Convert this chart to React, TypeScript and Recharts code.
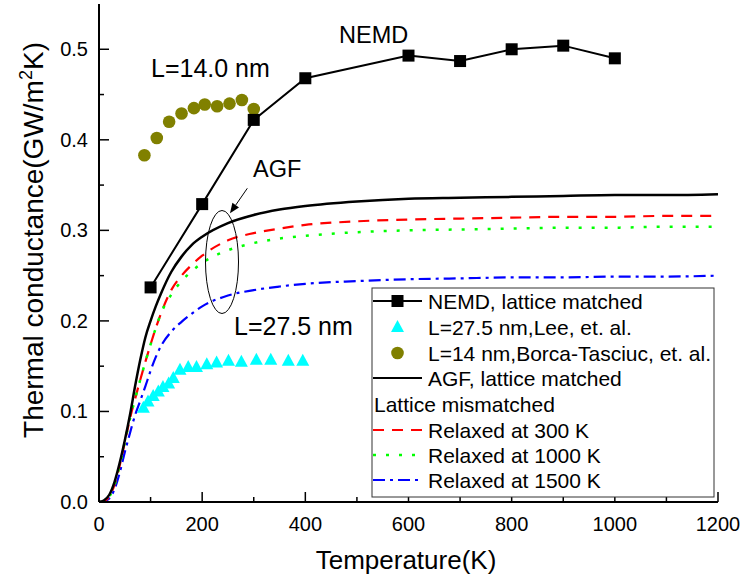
import React from "react";
import { ComposedChart, Line, Scatter, XAxis, YAxis } from "recharts";

const FONT = "'Liberation Sans', Arial, sans-serif";

// AGF curves (shared temperature grid)
const temps = [0, 10, 20, 30, 40, 50, 60, 70, 80, 90, 100, 110, 120, 140, 160, 180, 200, 250, 300, 350, 400, 500, 600, 700, 800, 900, 1000, 1100, 1200];
const agfMatched = [0, 0.002, 0.008, 0.022, 0.043, 0.068, 0.096, 0.128, 0.157, 0.182, 0.2, 0.216, 0.23, 0.254, 0.271, 0.284, 0.293, 0.308, 0.317, 0.323, 0.327, 0.332, 0.335, 0.336, 0.337, 0.338, 0.339, 0.339, 0.34];
const relaxed300 = [0, 0.001, 0.006, 0.019, 0.04, 0.066, 0.092, 0.114, 0.135, 0.155, 0.174, 0.192, 0.208, 0.234, 0.25, 0.262, 0.272, 0.289, 0.297, 0.302, 0.306, 0.31, 0.312, 0.313, 0.314, 0.315, 0.315, 0.316, 0.316];
const relaxed1000 = [0, 0.001, 0.006, 0.019, 0.04, 0.066, 0.092, 0.114, 0.135, 0.155, 0.174, 0.192, 0.208, 0.229, 0.244, 0.255, 0.264, 0.278, 0.286, 0.291, 0.294, 0.298, 0.3, 0.301, 0.302, 0.303, 0.303, 0.304, 0.304];
const relaxed1500 = [0, 0.001, 0.004, 0.014, 0.032, 0.055, 0.076, 0.096, 0.112, 0.128, 0.145, 0.16, 0.172, 0.188, 0.199, 0.208, 0.216, 0.228, 0.234, 0.238, 0.241, 0.244, 0.246, 0.247, 0.248, 0.248, 0.249, 0.249, 0.25];

// NEMD, lattice matched
const nemdT = [100, 200, 300, 400, 600, 700, 800, 900, 1000];
const nemdG = [0.237, 0.329, 0.422, 0.468, 0.493, 0.487, 0.5, 0.504, 0.49];

// L=27.5 nm, Lee et al.
const leeT = [86, 95, 105, 115, 124, 135, 144, 157, 173, 189, 209, 228, 251, 276, 305, 333, 367, 395];
const leeG = [0.104, 0.111, 0.117, 0.122, 0.127, 0.131, 0.137, 0.146, 0.149, 0.149, 0.152, 0.154, 0.156, 0.155, 0.157, 0.157, 0.156, 0.156];

// L=14 nm, Borca-Tasciuc et al.
const borcaT = [88, 112, 136, 160, 184, 205, 229, 253, 277, 300];
const borcaG = [0.383, 0.402, 0.42, 0.429, 0.435, 0.439, 0.437, 0.44, 0.444, 0.434];

const xTicks = [0, 100, 200, 300, 400, 500, 600, 700, 800, 900, 1000, 1100, 1200];
const yTicks = [0, 0.05, 0.1, 0.15, 0.2, 0.25, 0.3, 0.35, 0.4, 0.45, 0.5];

const rows = (t: number[], g: number[]) => t.map((v, i) => ({ t: v, g: g[i] }));

const BottomTick = (p: any) => {
  const v = p.payload.value;
  const major = Math.round(v) % 200 === 0;
  return (
    <g>
      <line x1={p.x} x2={p.x} y1={p.y} y2={p.y - (major ? 10 : 5)} stroke="#000" strokeWidth={1.5} />
      {major && (
        <text x={p.x} y={p.y + 29} textAnchor="middle" fontSize={20} fontFamily={FONT} fill="#000">{v}</text>
      )}
    </g>
  );
};
const TopTick = (p: any) => {
  const major = Math.round(p.payload.value) % 200 === 0;
  return <line x1={p.x} x2={p.x} y1={p.y} y2={p.y + (major ? 10 : 5)} stroke="#000" strokeWidth={1.5} />;
};
const LeftTick = (p: any) => {
  const v = p.payload.value;
  const major = Math.round(v * 100) % 10 === 0;
  return (
    <g>
      <line x1={p.x} x2={p.x + (major ? 10 : 5)} y1={p.y} y2={p.y} stroke="#000" strokeWidth={1.5} />
      {major && (
        <text x={p.x - 11} y={p.y + 7} textAnchor="end" fontSize={20} fontFamily={FONT} fill="#000">{v.toFixed(1)}</text>
      )}
    </g>
  );
};
const RightTick = (p: any) => {
  const major = Math.round(p.payload.value * 100) % 10 === 0;
  return <line x1={p.x} x2={p.x - (major ? 10 : 5)} y1={p.y} y2={p.y} stroke="#000" strokeWidth={1.5} />;
};

const Square = (p: any) => <rect x={p.cx - 6} y={p.cy - 6} width={12} height={12} fill="#000" />;
const Triangle = (p: any) => (
  <polygon points={`${p.cx},${p.cy - 7} ${p.cx + 6.5},${p.cy + 5} ${p.cx - 6.5},${p.cy + 5}`} fill="#00FFFF" />
);
const Dot = (p: any) => <circle cx={p.cx} cy={p.cy} r={6.3} fill="#808000" />;

const legendLabels = [
  "NEMD, lattice matched",
  "L=27.5 nm,Lee, et. al.",
  "L=14 nm,Borca-Tasciuc, et. al.",
  "AGF, lattice matched",
  "Lattice mismatched",
  "Relaxed at 300 K",
  "Relaxed at 1000 K",
  "Relaxed at 1500 K",
];

function Overlay() {
  const rowY = [301, 327, 353, 378, 404, 430, 455, 480];
  const lx1 = 373, lx2 = 422, tx = 428;
  return (
    <svg width={743} height={579} style={{ position: "absolute", left: 0, top: 0, pointerEvents: "none" }} fontFamily={FONT}>
      <text transform="translate(43,240) rotate(-90)" textAnchor="middle" fontSize={28} fill="#000">
        Thermal conductance(GW/m<tspan dy={-11} fontSize={18}>2</tspan><tspan dy={11}>K)</tspan>
      </text>
      <text x={406} y={569} textAnchor="middle" fontSize={26} fill="#000">Temperature(K)</text>
      <text x={339} y={43} fontSize={23.5} fill="#000">NEMD</text>
      <text x={151} y={77} fontSize={25} fill="#000">L=14.0 nm</text>
      <text x={253} y={177} fontSize={23.5} fill="#000">AGF</text>
      <text x={234} y={335} fontSize={25} fill="#000">L=27.5 nm</text>
      <line x1={247.3} y1={188.3} x2={235.7} y2={205.1} stroke="#000" strokeWidth={1} />
      <polygon points="230,213.3 239,207.4 232.4,202.8" fill="#000" />
      <ellipse cx={222} cy={262} rx={16.5} ry={51.5} fill="none" stroke="#000" strokeWidth={1} />

      <rect x={372} y={288} width={342} height={209} fill="#fff" stroke="#333" strokeWidth={1} />
      <line x1={lx1} x2={lx2} y1={rowY[0]} y2={rowY[0]} stroke="#000" strokeWidth={2} />
      <rect x={391.5} y={rowY[0] - 6} width={12} height={12} fill="#000" />
      <polygon points={`397.5,${rowY[1] - 7} 404,${rowY[1] + 5} 391,${rowY[1] + 5}`} fill="#00FFFF" />
      <circle cx={397.5} cy={rowY[2]} r={6.3} fill="#808000" />
      <line x1={lx1} x2={lx2} y1={rowY[3]} y2={rowY[3]} stroke="#000" strokeWidth={2} />
      <line x1={lx1} x2={lx2} y1={rowY[5]} y2={rowY[5]} stroke="#FF0000" strokeWidth={2} strokeDasharray="11,8" />
      <line x1={lx1} x2={lx2} y1={rowY[6]} y2={rowY[6]} stroke="#00FF00" strokeWidth={2.5} strokeDasharray="3,10" />
      <line x1={lx1} x2={lx2} y1={rowY[7]} y2={rowY[7]} stroke="#0000FF" strokeWidth={2} strokeDasharray="12,5,3,5" />
      {legendLabels.map((s, i) => (
        <text key={s} x={i === 4 ? 374 : tx} y={rowY[i] + 7.5} fontSize={21} fill="#000">{s}</text>
      ))}
    </svg>
  );
}

export default function App() {
  return (
    <div style={{ position: "relative", width: 743, height: 579, background: "#fff" }}>
      <style>{"body{margin:0}"}</style>
      <ComposedChart width={743} height={579} margin={{ top: 4, right: 25, left: 0, bottom: 0 }}>
        <XAxis dataKey="t" type="number" domain={[0, 1200]} ticks={xTicks} interval={0} allowDataOverflow
          height={77} tickSize={0} tickMargin={0} tickLine={false} axisLine={{ stroke: "#000", strokeWidth: 2 }} tick={BottomTick} />
        <XAxis xAxisId="top" orientation="top" dataKey="t" type="number" domain={[0, 1200]} ticks={xTicks} interval={0} allowDataOverflow
          height={0} tickSize={0} tickMargin={0} tickLine={false} axisLine={{ stroke: "#000", strokeWidth: 2 }} tick={TopTick} />
        <YAxis dataKey="g" type="number" domain={[0, 0.55]} ticks={yTicks} interval={0} allowDataOverflow
          width={99} tickSize={0} tickMargin={0} tickLine={false} axisLine={{ stroke: "#000", strokeWidth: 2 }} tick={LeftTick} />
        <YAxis yAxisId="right" orientation="right" dataKey="g" type="number" domain={[0, 0.55]} ticks={yTicks} interval={0} allowDataOverflow
          width={0} tickSize={0} tickMargin={0} tickLine={false} axisLine={{ stroke: "#000", strokeWidth: 2 }} tick={RightTick} />

        <Line data={rows(temps, relaxed1500)} dataKey="g" type="monotone" stroke="#0000FF" strokeWidth={2.2} strokeDasharray="12,5,3,5" dot={false} isAnimationActive={false} />
        <Line data={rows(temps, relaxed300)} dataKey="g" type="monotone" stroke="#FF0000" strokeWidth={2.2} strokeDasharray="11,8" dot={false} isAnimationActive={false} />
        <Line data={rows(temps, relaxed1000)} dataKey="g" type="monotone" stroke="#00FF00" strokeWidth={2.5} strokeDasharray="3,10" dot={false} isAnimationActive={false} />
        <Line data={rows(temps, agfMatched)} dataKey="g" type="monotone" stroke="#000" strokeWidth={2.5} dot={false} isAnimationActive={false} />
        <Scatter data={rows(leeT, leeG)} dataKey="g" shape={Triangle} isAnimationActive={false} />
        <Scatter data={rows(borcaT, borcaG)} dataKey="g" shape={Dot} isAnimationActive={false} />
        <Line data={rows(nemdT, nemdG)} dataKey="g" type="linear" stroke="#000" strokeWidth={2} dot={Square} activeDot={false} isAnimationActive={false} />
      </ComposedChart>
      <Overlay />
    </div>
  );
}
